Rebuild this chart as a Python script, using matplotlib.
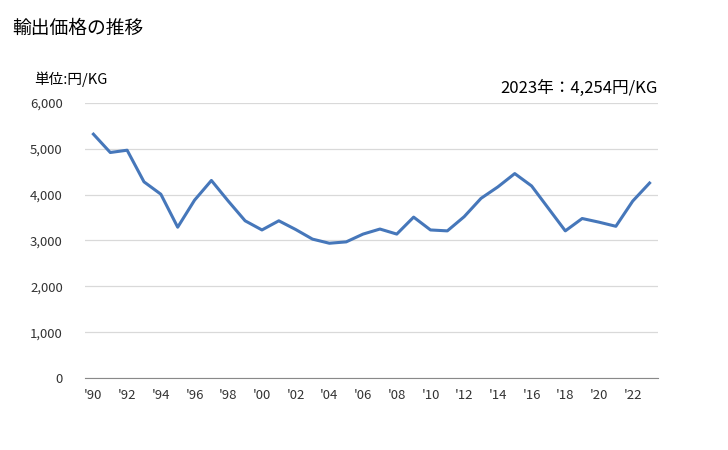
import numpy as np
import matplotlib.pyplot as plt

plt.rcParams['font.family'] = ['Noto Sans CJK JP', 'DejaVu Sans']

years = list(range(1990, 2024))
prices = [5320, 4920, 4970, 4280, 4010, 3290, 3880, 4310, 3860, 3430,
          3230, 3430, 3240, 3030, 2940, 2970, 3140, 3250, 3140, 3510,
          3230, 3210, 3520, 3920, 4170, 4460, 4190, 3700, 3210, 3480,
          3400, 3310, 3860, 4254]
yticks = [0, 1000, 2000, 3000, 4000, 5000, 6000]

fig = plt.figure(figsize=(7.28, 4.5), dpi=100)
ax = fig.add_axes([85/728, 1 - 378/450, (658 - 85)/728, (378 - 103)/450])

xx = np.arange(len(years))
ax.plot(xx, prices, color='#4677BA', lw=2.2, solid_joinstyle='round')

ax.set_xlim(-0.5, len(years) - 0.5)
ax.set_ylim(0, 6000)
ax.set_yticks(yticks)
ax.set_yticklabels([f"{v:,}" for v in yticks])
ax.set_xticks(xx[::2])
ax.set_xticklabels([f"'{y % 100:02d}" for y in years[::2]])
ax.grid(axis='y', color='#d9d9d9', lw=0.9)
ax.set_axisbelow(True)
for s in ['top', 'right', 'left']:
    ax.spines[s].set_visible(False)
ax.spines['bottom'].set_color('#898989')
ax.tick_params(length=0, labelsize=9.5, colors='#333333')
ax.tick_params(axis='y', pad=16)
ax.tick_params(axis='x', pad=8)

fig.text(12/728, 1 - 28/450, '輸出価格の推移', fontsize=13.5, va='center', ha='left')
fig.text(34/728, 1 - 79/450, '単位:円/KG', fontsize=10.5, va='center', ha='left')
fig.text(658/728, 1 - 88/450, '2023年：4,254円/KG', fontsize=12, va='center', ha='right')

fig.savefig('out.png', dpi=100)
